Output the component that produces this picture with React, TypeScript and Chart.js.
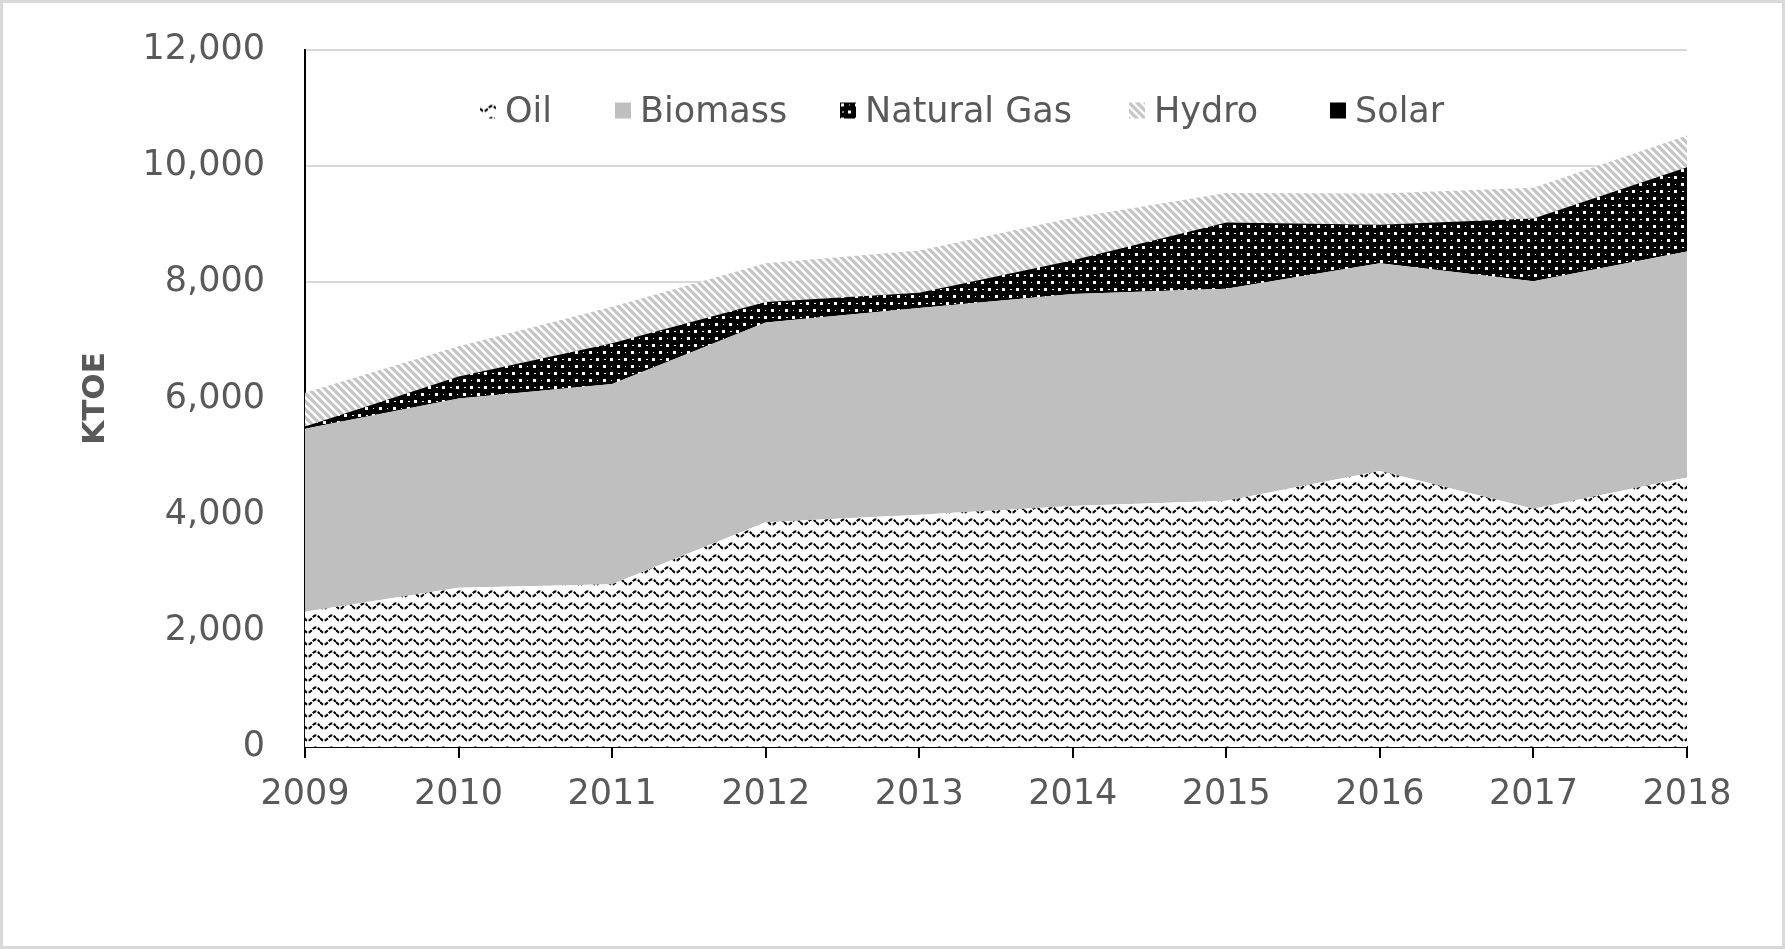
import React, { useEffect, useRef } from "react";
import { Chart, registerables } from "chart.js";

Chart.register(...registerables);

const years = ["2009", "2010", "2011", "2012", "2013", "2014", "2015", "2016", "2017", "2018"];
const oil = [2330, 2740, 2800, 3870, 4000, 4150, 4240, 4750, 4100, 4640];
const biomass = [3150, 3260, 3450, 3440, 3560, 3650, 3650, 3580, 3920, 3890];
const naturalGas = [40, 380, 700, 350, 260, 580, 1140, 660, 1080, 1450];
const hydro = [580, 520, 630, 670, 730, 730, 510, 540, 530, 550];
const solar = [0, 0, 0, 0, 0, 0, 0, 0, 0, 0];
const yTicks = [0, 2000, 4000, 6000, 8000, 10000, 12000];
const seriesNames = ["Oil", "Biomass", "Natural Gas", "Hydro", "Solar"];

const FONT = "'DejaVu Sans', sans-serif";
const TEXT = "#595959";

function makeTile(w: number, h: number, draw: (c: CanvasRenderingContext2D) => void) {
  const cv = document.createElement("canvas");
  cv.width = w;
  cv.height = h;
  const c = cv.getContext("2d")!;
  draw(c);
  return cv;
}

function makeFills(ctx: CanvasRenderingContext2D) {
  const oilTile = makeTile(16, 12, (c) => {
    c.fillStyle = "#fff";
    c.fillRect(0, 0, 16, 12);
    c.strokeStyle = "#000";
    c.lineWidth = 2.1;
    c.setLineDash([4, 1.5]);
    c.beginPath();
    for (let x = 0; x <= 16; x += 0.5) {
      const y = 6 + 2.6 * Math.sin((2 * Math.PI * x) / 16);
      if (x === 0) c.moveTo(x, y);
      else c.lineTo(x, y);
    }
    c.stroke();
  });
  const gasTile = makeTile(14, 14, (c) => {
    c.fillStyle = "#000";
    c.fillRect(0, 0, 14, 14);
    c.fillStyle = "#fff";
    c.fillRect(1, 1, 3, 3);
    c.fillRect(8, 8, 3, 3);
    c.fillRect(9, 2, 1, 1);
    c.fillRect(2, 9, 2, 1);
  });
  const hydroTile = makeTile(8, 8, (c) => {
    c.fillStyle = "#fff";
    c.fillRect(0, 0, 8, 8);
    c.strokeStyle = "#c4c4c4";
    c.lineWidth = 3.2;
    c.beginPath();
    for (const off of [-8, 0, 8]) {
      c.moveTo(-2, off - 2);
      c.lineTo(10, off + 10);
    }
    c.stroke();
  });
  return [
    ctx.createPattern(oilTile, "repeat")!,
    "#bfbfbf",
    ctx.createPattern(gasTile, "repeat")!,
    ctx.createPattern(hydroTile, "repeat")!,
    "#000000",
  ] as (string | CanvasPattern)[];
}

export default function App() {
  const canvasRef = useRef<HTMLCanvasElement | null>(null);
  const swatchRefs = useRef<(HTMLCanvasElement | null)[]>([]);

  useEffect(() => {
    const canvas = canvasRef.current!;
    const ctx = canvas.getContext("2d")!;
    const fills = makeFills(ctx);
    const seriesValues = [oil, biomass, naturalGas, hydro, solar];

    swatchRefs.current.forEach((sw, i) => {
      if (!sw) return;
      const sc = sw.getContext("2d")!;
      const f = makeFills(sc)[i];
      sc.clearRect(0, 0, sw.width, sw.height);
      sc.fillStyle = f as any;
      sc.fillRect(0, 0, sw.width, sw.height);
    });

    const chart = new Chart(canvas, {
      type: "line",
      data: {
        labels: years,
        datasets: seriesNames.map((name, i) => ({
          label: name,
          data: seriesValues[i],
          backgroundColor: fills[i] as any,
          borderWidth: 0,
          borderColor: "rgba(0,0,0,0)",
          pointRadius: 0,
          pointHoverRadius: 0,
          fill: i === 0 ? "origin" : "-1",
          tension: 0,
        })),
      },
      options: {
        animation: false,
        responsive: false,
        events: [],
        layout: { padding: { top: 50, right: 98, left: 0, bottom: 0 } },
        plugins: {
          legend: { display: false },
          tooltip: { enabled: false },
        },
        scales: {
          x: {
            type: "category",
            offset: false,
            afterFit: (s: any) => {
              s.height = 949 - 747;
              s.paddingLeft = 0;
              s.paddingRight = 0;
            },
            grid: {
              display: true,
              drawOnChartArea: false,
              drawTicks: true,
              tickLength: 11,
              color: "#000",
              tickColor: "#000",
              lineWidth: 2,
            },
            border: { display: true, color: "#000", width: 2 },
            ticks: {
              color: TEXT,
              font: { family: FONT, size: 35 },
              padding: 16,
              maxRotation: 0,
              autoSkip: false,
            },
          },
          y: {
            stacked: true,
            min: 0,
            max: 12000,
            afterFit: (s: any) => {
              s.width = 305;
              s.paddingTop = 0;
              s.paddingBottom = 0;
            },
            afterBuildTicks: (s: any) => {
              s.ticks = yTicks.map((v) => ({ value: v }));
            },
            grid: {
              color: "#d9d9d9",
              lineWidth: 2,
              drawTicks: false,
            },
            border: { display: true, color: "#000", width: 2 },
            ticks: {
              color: TEXT,
              font: { family: FONT, size: 35 },
              padding: 40,
              callback: (v: any) => Number(v).toLocaleString("en-US"),
            },
            title: {
              display: true,
              text: "KTOE",
              color: TEXT,
              font: { family: FONT, size: 31, weight: "bold" },
              padding: { top: 77, bottom: 0 },
            },
          },
        },
      },
    });
    return () => chart.destroy();
  }, []);

  const legendLefts = [480, 615, 840, 1129, 1330];

  return (
    <div
      style={{
        position: "fixed",
        left: 0,
        top: 0,
        width: 1785,
        height: 949,
        background: "#fff",
        overflow: "hidden",
      }}
    >
      <canvas ref={canvasRef} width={1785} height={949} style={{ position: "absolute", left: 0, top: 0, width: 1785, height: 949 }} />
      {seriesNames.map((name, i) => (
        <div
          key={name}
          style={{
            position: "absolute",
            left: legendLefts[i],
            top: 110,
            transform: "translateY(-50%)",
            display: "flex",
            alignItems: "center",
            fontFamily: FONT,
            fontSize: 35,
            color: TEXT,
            whiteSpace: "nowrap",
            lineHeight: 1,
          }}
        >
          <canvas
            ref={(el) => {
              swatchRefs.current[i] = el;
            }}
            width={16}
            height={16}
            style={{ width: 16, height: 16, marginRight: 9 }}
          />
          <span>{name}</span>
        </div>
      ))}
      <div
        style={{
          position: "absolute",
          left: 0,
          top: 0,
          width: 1785,
          height: 949,
          border: "3px solid #d9d9d9",
          boxSizing: "border-box",
          pointerEvents: "none",
        }}
      />
    </div>
  );
}
